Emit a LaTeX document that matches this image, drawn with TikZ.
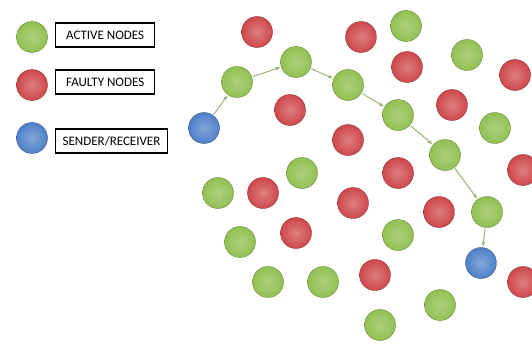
\documentclass[tikz,border=0pt]{standalone}
\usepackage{fontspec}
\setmainfont{Carlito}
\usepackage{tikz}
\usetikzlibrary{arrows.meta}
\definecolor{activegreen}{RGB}{146,192,82}
\definecolor{faultyred}{RGB}{206,72,74}
\definecolor{senderblue}{RGB}{78,128,200}
\definecolor{routegreen}{RGB}{150,182,112}

\begin{document}
\begin{tikzpicture}[x=1pt, y=-1pt, font=\fontsize{13}{15}\selectfont,
node/.style = {circle, minimum size=31pt, inner sep=0pt},
active/.style = {node, draw=activegreen!70!black, inner color=activegreen!75!white, outer color=activegreen},
faulty/.style = {node, draw=faultyred!70!black, inner color=faultyred!70!white, outer color=faultyred},
sender/.style = {node, draw=senderblue!70!black, inner color=senderblue!70!white, outer color=senderblue},
legend/.style = {rectangle, draw, line width=1.3pt, minimum height=24pt, anchor=west, inner xsep=7pt},
route/.style = {-{Stealth[length=5pt,width=4pt]}, routegreen, line width=1pt, shorten >=1pt, shorten <=1pt},]
 \useasboundingbox (0,0) rectangle (532,345);

 % legend
 \node[active] (keyactive) at (32,37) {};
 \node[faulty] (keyfaulty) at (32,85) {};
 \node[sender] (keysender) at (32,138) {};
 \node[legend, minimum width=99pt] (txtactive) at (55,35) {ACTIVE NODES};
 \node[legend, minimum width=99pt] (txtfaulty) at (55,82) {FAULTY NODES};
 \node[legend, minimum width=111pt] (txtsender) at (55,141) {SENDER/RECEIVER};

 % route
 \node[sender] (src) at (204,128) {};
 \node[active] (p1) at (237,82) {};
 \node[active] (p2) at (296,62) {};
 \node[active] (p3) at (348,85) {};
 \node[active] (p4) at (398,115) {};
 \node[active] (p5) at (445,155) {};
 \node[active] (p6) at (487,212) {};
 \node[sender] (dst) at (481,263) {};

 % other active nodes
 \node[active] (a1) at (406,26) {};
 \node[active] (a2) at (467,55) {};
 \node[active] (a3) at (495,128) {};
 \node[active] (a4) at (218,193) {};
 \node[active] (a5) at (302,173) {};
 \node[active] (a6) at (240,242) {};
 \node[active] (a7) at (398,235) {};
 \node[active] (a8) at (268,282) {};
 \node[active] (a9) at (323,282) {};
 \node[active] (a10) at (440,305) {};
 \node[active] (a11) at (380,325) {};

 % faulty nodes
 \node[faulty] (f1) at (257,32) {};
 \node[faulty] (f2) at (361,37) {};
 \node[faulty] (f3) at (407,67) {};
 \node[faulty] (f4) at (515,75) {};
 \node[faulty] (f5) at (290,110) {};
 \node[faulty] (f6) at (452,105) {};
 \node[faulty] (f7) at (348,140) {};
 \node[faulty] (f8) at (263,193) {};
 \node[faulty] (f9) at (398,173) {};
 \node[faulty] (f10) at (523,170) {};
 \node[faulty] (f11) at (353,203) {};
 \node[faulty] (f12) at (439,212) {};
 \node[faulty] (f13) at (296,233) {};
 \node[faulty] (f14) at (375,275) {};
 \node[faulty] (f15) at (523,282) {};

 \draw[route] (src) -- (p1);
 \draw[route] (p1) -- (p2);
 \draw[route] (p2) -- (p3);
 \draw[route] (p3) -- (p4);
 \draw[route] (p4) -- (p5);
 \draw[route] (p5) -- (p6);
 \draw[route] (p6) -- (dst);
\end{tikzpicture}
\end{document}
